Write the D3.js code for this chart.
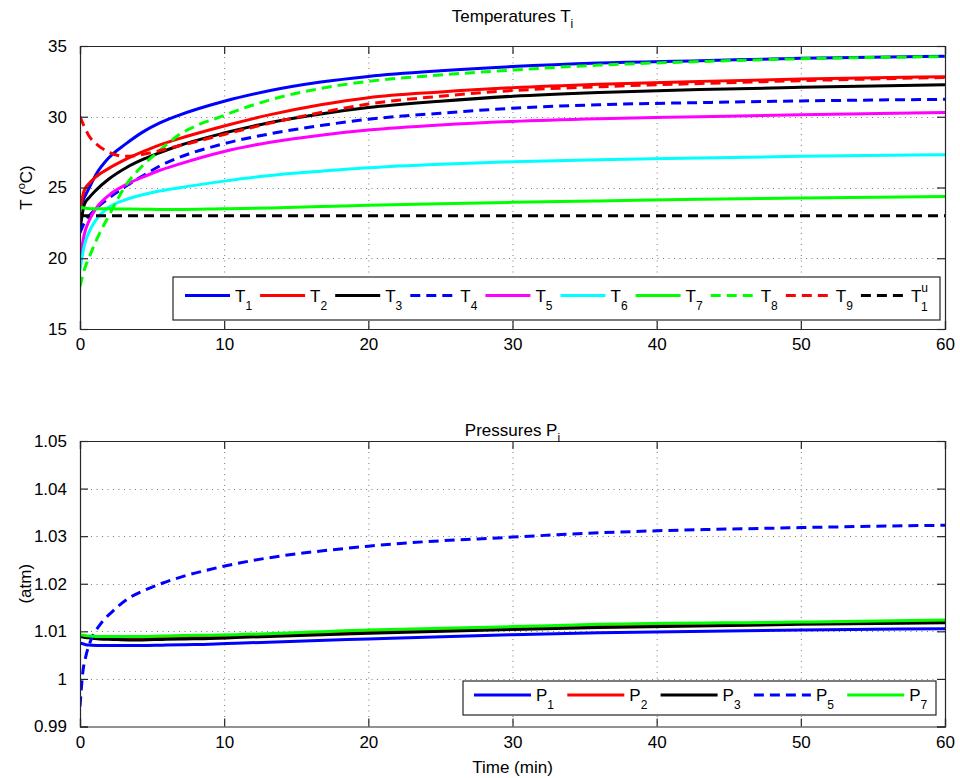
<!DOCTYPE html>
<html><head><meta charset="utf-8">
<script src="https://cdn.jsdelivr.net/npm/d3@7"></script>
<style>body{margin:0;background:#fff}svg{display:block;font-family:"Liberation Sans",Arial,sans-serif}</style>
</head><body><svg id="c" width="960" height="778"></svg>
<script>
// time points (min)
const tT = [0, 0.3, 0.65, 1.1, 2, 3.2, 4.4, 5.5, 6.7, 10, 13.2, 16.7, 20, 25, 30, 36, 43, 50, 60];
const T1 = [23.6, 24.3, 25.0, 25.9, 27.1, 28.1, 28.95, 29.55, 30.05, 31.1, 31.85, 32.45, 32.85, 33.25, 33.55, 33.8, 33.96, 34.13, 34.27];
const T2 = [23.5, 24.8, 25.3, 25.75, 26.35, 27.0, 27.55, 28.0, 28.4, 29.35, 30.15, 30.85, 31.35, 31.75, 32.05, 32.3, 32.5, 32.66, 32.83];
const T3 = [22.0, 23.8, 24.3, 24.8, 25.6, 26.4, 27.0, 27.45, 27.9, 28.85, 29.6, 30.2, 30.65, 31.1, 31.45, 31.72, 31.92, 32.08, 32.26];
const T4 = [21.8, 22.5, 23.0, 23.5, 24.25, 25.1, 25.85, 26.5, 27.05, 28.1, 28.8, 29.38, 29.82, 30.25, 30.6, 30.85, 31.0, 31.12, 31.23];
const T5 = [19.9, 21.7, 22.7, 23.5, 24.45, 25.2, 25.75, 26.2, 26.6, 27.55, 28.2, 28.7, 29.06, 29.42, 29.67, 29.86, 30.0, 30.14, 30.3];
const T6 = [19.2, 20.9, 21.9, 22.7, 23.6, 24.15, 24.5, 24.75, 24.95, 25.45, 25.85, 26.15, 26.4, 26.65, 26.82, 26.96, 27.08, 27.2, 27.31];
const T7 = [23.6, 23.55, 23.5, 23.5, 23.5, 23.48, 23.46, 23.45, 23.45, 23.5, 23.55, 23.65, 23.75, 23.85, 23.95, 24.05, 24.17, 24.25, 24.36];
const T8 = [18.0, 19.2, 20.1, 21.2, 23.0, 25.2, 26.6, 27.6, 28.6, 30.1, 31.2, 32.0, 32.5, 32.95, 33.3, 33.65, 33.9, 34.1, 34.25];
const T9 = [30.0, 29.3, 28.6, 28.1, 27.5, 27.2, 27.35, 27.6, 27.9, 28.75, 29.55, 30.3, 30.9, 31.45, 31.85, 32.12, 32.35, 32.55, 32.78];
const T1u = [23, 23, 23, 23, 23, 23, 23, 23, 23, 23, 23, 23, 23, 23, 23, 23, 23, 23, 23];

const tP = [0, 0.2, 0.4, 0.76, 1.34, 2.26, 3.4, 4.3, 5.7, 7.1, 9, 10.8, 20, 30, 36, 50, 60];
const P1 = [1.0075, 1.0074, 1.0072, 1.0071, 1.0070, 1.0070, 1.0070, 1.0070, 1.0071, 1.0072, 1.0073, 1.0075, 1.0084, 1.0093, 1.0097, 1.0103, 1.01056];
const P2 = [1.0091, 1.0090, 1.0089, 1.0088, 1.0086, 1.0085, 1.0085, 1.0085, 1.0086, 1.0087, 1.0088, 1.0089, 1.0098, 1.0106, 1.0110, 1.0117, 1.0120];
const P3 = [1.0089, 1.0088, 1.0087, 1.0086, 1.0084, 1.0083, 1.0082, 1.0082, 1.0083, 1.0084, 1.0085, 1.0087, 1.0096, 1.0104, 1.0108, 1.01147, 1.0118];
const P5 = [0.9942, 1.0015, 1.0047, 1.0082, 1.0112, 1.0142, 1.0170, 1.0184, 1.0201, 1.0215, 1.0230, 1.0242, 1.0279, 1.0298, 1.0307, 1.0318, 1.0323];
const P7 = [1.0093, 1.0092, 1.0091, 1.0090, 1.0089, 1.0089, 1.0089, 1.0089, 1.0090, 1.0091, 1.0092, 1.0093, 1.0103, 1.0110, 1.01147, 1.01196, 1.01238];

const xTicks = [0, 10, 20, 30, 40, 50, 60];
const yTicksT = [15, 20, 25, 30, 35];
const yTicksP = [0.99, 1, 1.01, 1.02, 1.03, 1.04, 1.05];

const tempSeries = [
  {name:"T", sub:"1", v:T1, color:"#0000ff", dash:null},
  {name:"T", sub:"2", v:T2, color:"#ff0000", dash:null},
  {name:"T", sub:"3", v:T3, color:"#000000", dash:null},
  {name:"T", sub:"4", v:T4, color:"#0000ff", dash:"10,6"},
  {name:"T", sub:"5", v:T5, color:"#ff00ff", dash:null},
  {name:"T", sub:"6", v:T6, color:"#00ffff", dash:null},
  {name:"T", sub:"7", v:T7, color:"#00ff00", dash:null},
  {name:"T", sub:"8", v:T8, color:"#00ff00", dash:"10,6"},
  {name:"T", sub:"9", v:T9, color:"#ff0000", dash:"10,6"},
  {name:"T", sub:"1", sup:"u", v:T1u, color:"#000000", dash:"10,6"}
];
const presSeries = [
  {name:"P", sub:"1", v:P1, color:"#0000ff", dash:null},
  {name:"P", sub:"2", v:P2, color:"#ff0000", dash:null},
  {name:"P", sub:"3", v:P3, color:"#000000", dash:null},
  {name:"P", sub:"5", v:P5, color:"#0000ff", dash:"10,6"},
  {name:"P", sub:"7", v:P7, color:"#00ff00", dash:null}
];

const svg = d3.select("#c");
const L = 80, R = 945;
const FS = 17;
const x = d3.scaleLinear().domain([0, 60]).range([L, R]);
const yT = d3.scaleLinear().domain([15, 35]).range([329, 46]);
const yP = d3.scaleLinear().domain([0.99, 1.05]).range([726.5, 441]);
const axisColor = "#262626";

function panel(y, yTicks, fmt, ts, series, id, title, titleY, ylab, legend) {
  const [yb, yt] = y.range();
  const g = svg.append("g");
  g.append("defs").append("clipPath").attr("id", id).append("rect")
    .attr("x", L).attr("y", yt).attr("width", R - L).attr("height", yb - yt);
  // grid
  const grid = g.append("g").attr("stroke", "#7a7a7a").attr("stroke-width", 1).attr("stroke-dasharray", "1,4.5");
  xTicks.slice(1, -1).forEach(t => grid.append("line").attr("x1", x(t)+0.5).attr("x2", x(t)+0.5).attr("y1", yt).attr("y2", yb));
  yTicks.slice(1, -1).forEach(v => grid.append("line").attr("y1", Math.round(y(v))+0.5).attr("y2", Math.round(y(v))+0.5).attr("x1", L).attr("x2", R));
  // lines
  const line = d3.line().x((d, i) => x(ts[i])).y(d => y(d)).curve(d3.curveMonotoneX);
  const lg = g.append("g").attr("clip-path", `url(#${id})`);
  series.forEach(s => {
    lg.append("path").attr("d", line(s.v)).attr("fill", "none").attr("stroke", s.color)
      .attr("stroke-width", 3).attr("stroke-dasharray", s.dash).attr("stroke-linejoin", "round");
  });
  // axes with inward ticks
  const ax = g.append("g");
  const bottom = d3.axisBottom(x).tickValues(xTicks).tickSize(-8).tickPadding(9).tickFormat(d3.format("d"));
  const top = d3.axisTop(x).tickValues(xTicks).tickSize(-8).tickFormat("");
  const left = d3.axisLeft(y).tickValues(yTicks).tickSize(-8).tickPadding(13).tickFormat(fmt);
  const right = d3.axisRight(y).tickValues(yTicks).tickSize(-8).tickFormat("");
  [[bottom, `translate(0,${yb})`], [top, `translate(0,${yt})`], [left, `translate(${L},0)`], [right, `translate(${R},0)`]].forEach(([a, tr]) => {
    const gg = ax.append("g").attr("transform", tr).call(a);
    gg.select(".domain").attr("stroke", axisColor).attr("stroke-width", 1.2);
    gg.selectAll(".tick line").attr("stroke", axisColor).attr("stroke-width", 1.2);
    gg.selectAll(".tick text").attr("font-size", FS).attr("fill", "#000").attr("font-family", "Liberation Sans, Arial, sans-serif");
  });
  // title
  const tt = svg.append("text").attr("x", (L + R) / 2).attr("y", titleY).attr("text-anchor", "middle").attr("font-size", FS);
  tt.append("tspan").text(title[0]);
  tt.append("tspan").attr("dy", 6).attr("font-size", 12).text(title[1]);
  // ylabel
  ylab(svg, (yt + yb) / 2);
  // legend
  const lgd = svg.append("g");
  lgd.append("rect").attr("x", legend.x).attr("y", legend.y).attr("width", legend.w).attr("height", legend.h)
    .attr("fill", "#fff").attr("stroke", axisColor).attr("stroke-width", 1.2);
  series.forEach((s, i) => {
    const x0 = legend.x + legend.pad + i * legend.step;
    const cy = legend.y + legend.h / 2 - 3;
    lgd.append("line").attr("x1", x0).attr("x2", x0 + legend.len).attr("y1", cy).attr("y2", cy)
      .attr("stroke", s.color).attr("stroke-width", 3).attr("stroke-dasharray", s.dash);
    const t = lgd.append("text").attr("x", x0 + legend.len + 5).attr("y", cy + 6).attr("font-size", 17);
    t.append("tspan").text(s.name);
    if (s.sup) {
      t.append("tspan").attr("font-size", 12).attr("dy", -10).text(s.sup);
      t.append("tspan").attr("font-size", 12).attr("dx", -7).attr("dy", 19).text(s.sub);
    } else {
      t.append("tspan").attr("font-size", 12).attr("dy", 8).text(s.sub);
    }
  });
}

panel(yT, yTicksT, d3.format("d"), tT, tempSeries, "clipT", ["Temperatures T", "i"], 22,
  (s, cy) => {
    const t = s.append("text").attr("transform", `translate(32,${cy}) rotate(-90)`).attr("text-anchor", "middle").attr("font-size", FS);
    t.append("tspan").text("T (");
    t.append("tspan").attr("font-size", 11).attr("dy", -7).text("o");
    t.append("tspan").attr("dy", 7).text("C)");
  },
  {x: 173, y: 277, w: 767, h: 43, pad: 12, step: 75.1, len: 45});

panel(yP, yTicksP, v => v === 1 ? "1" : d3.format(".2f")(v), tP, presSeries, "clipP", ["Pressures P", "i"], 436,
  (s, cy) => {
    s.append("text").attr("transform", `translate(31,${cy}) rotate(-90)`).attr("text-anchor", "middle").attr("font-size", FS).text("(atm)");
  },
  {x: 463, y: 681, w: 473, h: 34, pad: 11, step: 93.3, len: 57});

svg.append("text").attr("x", (L + R) / 2).attr("y", 773).attr("text-anchor", "middle").attr("font-size", FS).text("Time (min)");
</script></body></html>
